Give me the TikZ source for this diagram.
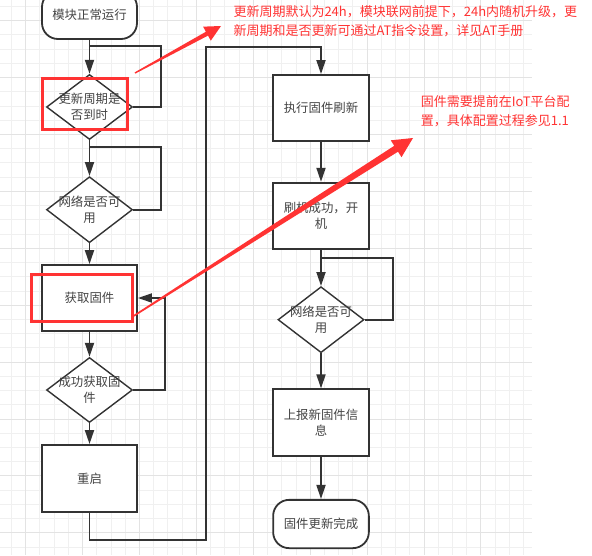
\documentclass[tikz,border=0pt]{standalone}
\usepackage{fontspec}
\setmainfont{Noto Sans CJK SC}
\usetikzlibrary{arrows.meta,shapes.geometric}
\definecolor{ln}{HTML}{333333}
\definecolor{tx}{HTML}{444444}
\definecolor{rd}{HTML}{FF3333}
\definecolor{gmin}{HTML}{F0F0F0}
\definecolor{gmaj}{HTML}{E3E3E3}
\begin{document}
\begin{tikzpicture}[x=1pt,y=-1pt,
  lbl/.style={align=center, font=\fontsize{12.4}{16.5}\selectfont, text=tx, inner sep=0pt},
  box/.style={lbl, draw=ln, line width=1.8pt, fill=white, minimum width=95pt, minimum height=66pt},
  term/.style={box, rounded corners=16pt, minimum height=48pt},
  dia/.style={diamond, draw=ln, line width=1.4pt, fill=white, minimum width=86pt, minimum height=65pt, inner sep=0pt},
  conn/.style={draw=ln, line width=1.8pt},
  arr/.style={conn, -{Triangle[length=14pt,width=9pt]}},
  hl/.style={draw=rd, line width=3pt},
  note/.style={text=rd, font=\fontsize{13}{19}\selectfont, align=left, inner sep=0pt, anchor=base west},
  redarrow/.style={fill=rd, draw=none}]
\useasboundingbox (0,0) rectangle (592,555);
\fill[white] (0,0) rectangle (592,555);
% grid
\begin{scope}
\clip (0,0) rectangle (532,555);
\foreach \i in {0,...,36} { \draw[gmin, line width=1pt] ({11.5+14.225*\i},0) -- ({11.5+14.225*\i},555); }
\foreach \i in {0,...,38} { \draw[gmin, line width=1pt] (0,{6.5+14.225*\i}) -- (532,{6.5+14.225*\i}); }
\foreach \i in {0,...,8} { \draw[gmaj, line width=1pt] ({25.7+56.9*\i},0) -- ({25.7+56.9*\i},555); }
\foreach \i in {0,...,9} { \draw[gmaj, line width=1pt] (0,{20.7+56.9*\i}) -- (532,{20.7+56.9*\i}); }
\end{scope}

% left column
\node[term] (t1) at (89.5,15) {模块正常运行};
\node[dia, label={[lbl]center:{更新周期是\\否到时}}] (d1) at (89.5,107) {};
\node[dia, minimum height=66pt, label={[lbl]center:{网络是否可\\用}}] (d2) at (89.5,209.7) {};
\node[box] (b1) at (89.5,298) {获取固件};
\node[dia, label={[lbl]center:{成功获取固\\件}}] (d3) at (89.5,390) {};
\node[box, minimum height=66.7pt] (b2) at (89.5,478.3) {重启};
% right column
\node[box, minimum width=95.7pt] (b3) at (321,108) {执行固件刷新};
\node[box, minimum width=95.7pt, minimum height=66.6pt] (b4) at (321,216) {刷机成功，开\\机};
\node[dia, minimum height=66pt, label={[lbl]center:{网络是否可\\用}}] (d4) at (321,319.7) {};
\node[box, minimum width=95.7pt, minimum height=66.4pt] (b5) at (321,422.5) {上报新固件信\\息};
\node[term, minimum width=95.7pt, minimum height=48.3pt] (t2) at (321,524) {固件更新完成};

% helper coordinates
\coordinate (c1) at (161,45.7);  \coordinate (j1) at (89.5,45.7);
\coordinate (c2) at (161,147.3); \coordinate (j2) at (89.5,147.3);
\coordinate (c3) at (165,298);
\coordinate (c4) at (205.7,540); \coordinate (c5) at (205.7,47);
\coordinate (c6) at (392.7,258.3); \coordinate (j4) at (321,258.3);

% connectors
\draw[arr] (t1.south) -- (d1.north);
\draw[conn] (d1.east) -| (c1) -- (j1);
\draw[arr] (d1.south) -- (d2.north);
\draw[conn] (d2.east) -| (c2) -- (j2);
\draw[arr] (d2.south) -- (b1.north);
\draw[arr] (b1.south) -- (d3.north);
\draw[arr] (d3.east) -| (c3) -- (b1.east);
\draw[arr] (d3.south) -- (b2.north);
\draw[arr] (b2.south) |- (c4) -- (c5) -| (b3.north);
\draw[arr] (b3.south) -- (b4.north);
\draw[arr] (b4.south) -- (d4.north);
\draw[conn] (d4.east) -| (c6) -- (j4);
\draw[arr] (d4.south) -- (b5.north);
\draw[arr] (b5.south) -- (t2.north);

% highlights
\draw[hl] (42,78) rectangle (127.7,129);
\draw[hl] (31.7,274.3) rectangle (132.7,321.7);

% red tapered arrows
\fill[redarrow] (135.34,73.61) -- (208.02,35.60) -- (210.80,40.69) -- (221,26) -- (203.12,26.65) -- (205.90,31.74) -- (134.66,72.39) -- cycle;
\fill[redarrow] (132.43,317.67) -- (398.01,151.69) -- (401.50,157.17) -- (413,138) -- (390.76,140.31) -- (394.25,145.79) -- (131.57,316.33) -- cycle;

% notes
\node[note] (n1) at (233.3,35.5) {更新周期默认为24h，模块联网前提下，24h内随机升级，更\\新周期和是否更新可通过AT指令设置，详见AT手册};
\node[note] (n2) at (420.7,125.5) {固件需要提前在IoT平台配\\置，具体配置过程参见1.1};
\end{tikzpicture}
\end{document}
